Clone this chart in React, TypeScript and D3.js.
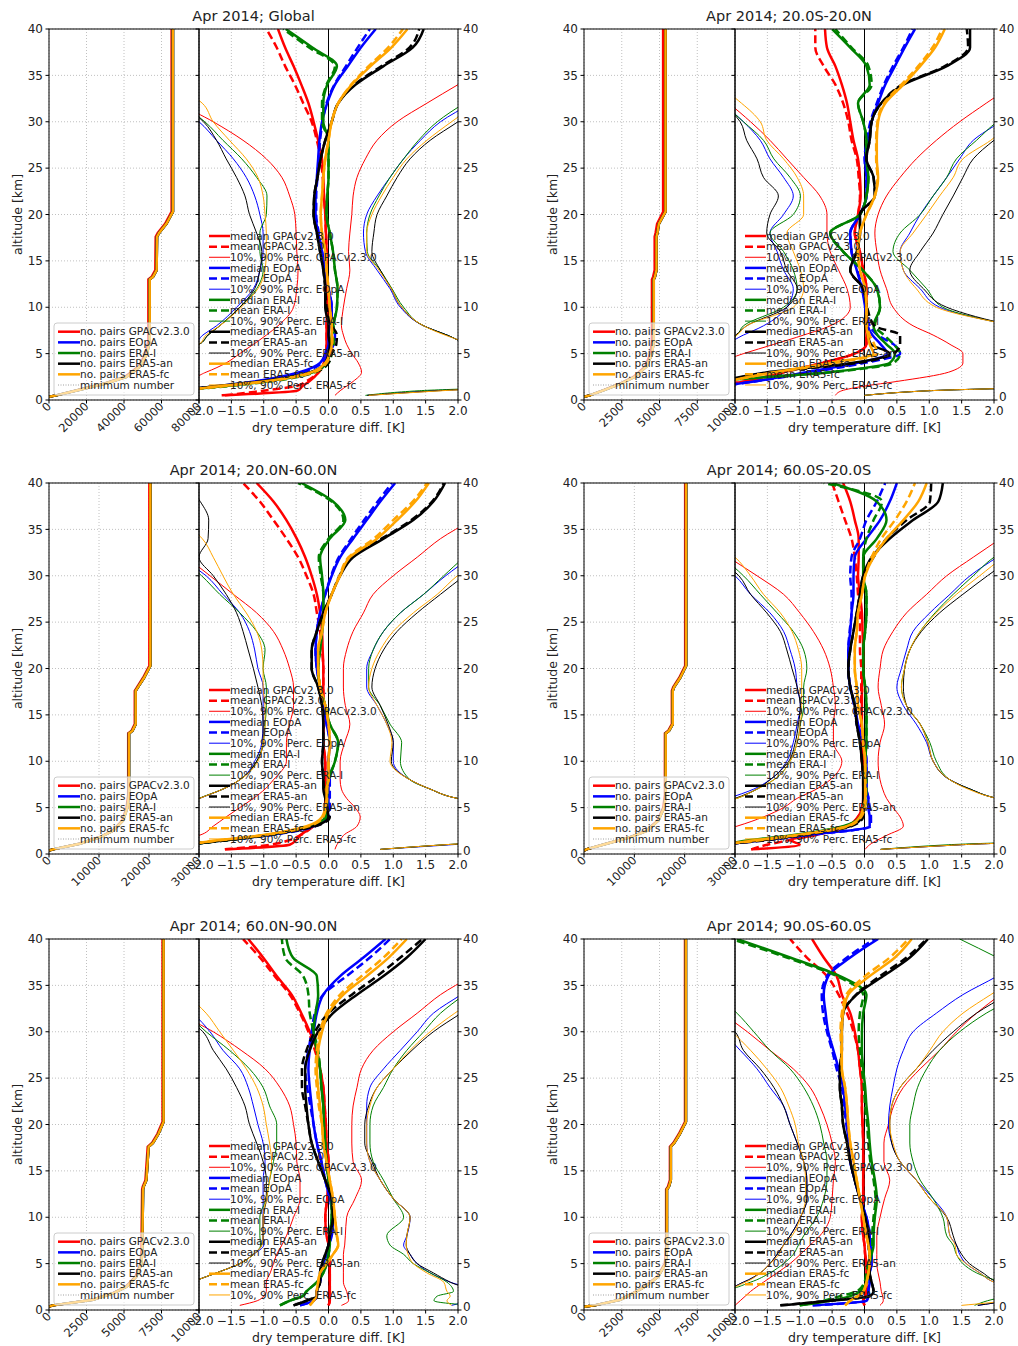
import * as d3 from "d3";
import { useEffect, useRef } from "react";

// altitude levels (km) for the difference profiles
const ALT = [0.5, 1, 1.5, 2, 3, 4, 5, 6, 7, 8, 10, 12, 14, 16, 18, 20, 22, 24, 26, 28, 30, 32, 34, 36, 38, 40];
// altitude levels (km) for the number-of-pairs profiles
const CNT_ALT = [0.36, 0.5, 1.1, 1.8, 2.5, 3.6, 5, 6.4, 13.0, 13.3, 14, 17.6, 18, 19, 20.3, 40];

const SETS = ["GPACv2.3.0", "EOpA", "ERA-I", "ERA5-an", "ERA5-fc"];
const COLORS = ["#ff0000", "#0000ff", "#008000", "#000000", "#ffa500"];
const ALT_TICKS = [0, 5, 10, 15, 20, 25, 30, 35, 40];
const DIFF_TICKS = [-2, -1.5, -1, -0.5, 0, 0.5, 1, 1.5, 2];
const TICKS_80K = [0, 20000, 40000, 60000, 80000];
const TICKS_30K = [0, 10000, 20000, 30000];
const TICKS_10K = [0, 2500, 5000, 7500, 10000];

// ---------- Global ----------
const GLOBAL_CNT_GPAC = [0, 3800, 16000, 30000, 40600, 47700, 51600, 53000, 53000, 54800, 56700, 56900, 58000, 61900, 65400, 65400];
const GLOBAL_CNT = [0, 3900, 16400, 30600, 41300, 48400, 52300, 53700, 53700, 55500, 57400, 57600, 58700, 62600, 66100, 66100];
const GLOBAL_MEDIAN = [
    [-1.65, -0.48, -0.4, -0.3, -0.15, -0.07, -0.04, -0.03, -0.03, -0.03, -0.02, -0.03, -0.03, -0.03, -0.04, -0.05, -0.07, -0.08, -0.1, -0.16, -0.23, -0.31, -0.42, -0.54, -0.67, -0.78],
    [-2.6, -2.3, -1.7, -1.15, -0.45, -0.13, -0.05, 0.0, 0.0, 0.02, 0.05, 0.0, -0.05, -0.1, -0.16, -0.2, -0.2, -0.18, -0.16, -0.14, -0.1, -0.02, 0.1, 0.3, 0.5, 0.73],
    [-2.6, -2.3, -1.6, -0.96, -0.23, -0.03, 0.02, 0.03, 0.05, 0.07, 0.13, 0.14, 0.1, 0.07, 0.02, -0.03, -0.02, 0.0, 0.0, 0.0, -0.08, -0.08, -0.02, 0.13, -0.25, -0.66],
    [-2.6, -2.3, -1.73, -1.06, -0.28, -0.05, 0.0, 0.02, 0.0, 0.0, -0.05, -0.05, -0.08, -0.13, -0.18, -0.23, -0.22, -0.17, -0.12, -0.05, 0.05, 0.15, 0.42, 0.85, 1.3, 1.47],
    [-2.6, -2.3, -1.65, -1.0, -0.26, -0.05, 0.02, 0.05, 0.05, 0.05, 0.02, 0.0, -0.03, -0.05, -0.1, -0.12, -0.1, -0.08, -0.05, 0.0, 0.05, 0.15, 0.36, 0.65, 0.97, 1.22],
];
const GLOBAL_MEAN = [
    [-1.6, -1.0, -0.5, -0.35, -0.15, -0.07, -0.04, -0.03, -0.03, -0.03, -0.02, -0.03, -0.03, -0.03, -0.04, -0.05, -0.07, -0.09, -0.12, -0.18, -0.26, -0.39, -0.52, -0.67, -0.8, -0.96],
    [-2.6, -2.3, -1.65, -1.1, -0.4, -0.1, 0.0, 0.08, 0.1, 0.05, 0.05, 0.0, -0.05, -0.1, -0.15, -0.19, -0.19, -0.17, -0.15, -0.13, -0.09, -0.03, 0.09, 0.27, 0.45, 0.64],
    [-2.6, -2.3, -1.55, -0.9, -0.2, 0.0, 0.05, 0.08, 0.08, 0.08, 0.13, 0.14, 0.1, 0.07, 0.02, -0.03, -0.02, 0.0, 0.0, 0.0, -0.1, -0.1, -0.03, 0.1, -0.3, -0.7],
    [-2.6, -2.3, -1.7, -1.0, -0.22, 0.0, 0.05, 0.12, 0.13, 0.05, -0.03, -0.05, -0.08, -0.13, -0.18, -0.23, -0.22, -0.17, -0.12, -0.05, 0.05, 0.15, 0.4, 0.82, 1.25, 1.4],
    [-2.6, -2.3, -1.6, -0.95, -0.22, -0.03, 0.03, 0.06, 0.06, 0.05, 0.02, 0.0, -0.03, -0.05, -0.1, -0.12, -0.1, -0.08, -0.05, 0.0, 0.05, 0.15, 0.35, 0.62, 0.92, 1.15],
];
const GLOBAL_P10 = [
    [-3, -3, -3, -2.3, -1.89, -1.58, -1.37, -1.16, -0.96, -0.78, -0.54, -0.49, -0.47, -0.49, -0.5, -0.52, -0.6, -0.72, -0.96, -1.32, -1.78, -2.3, -2.6, -2.8, -3, -3],
    [-3, -3, -3, -3, -3, -3, -2.6, -2.1, -1.94, -1.73, -1.42, -1.16, -1.06, -1.01, -1.01, -1.06, -1.14, -1.27, -1.47, -1.73, -2.0, -2.4, -2.8, -3, -3, -3],
    [-3, -3, -3, -3, -3, -3, -2.6, -2.0, -1.86, -1.68, -1.37, -1.11, -1.01, -1.06, -1.06, -0.96, -0.95, -1.11, -1.34, -1.63, -1.91, -2.3, -2.8, -3, -3, -3],
    [-3, -3, -3, -3, -3, -3, -2.6, -2.0, -1.86, -1.68, -1.37, -1.14, -1.06, -1.03, -1.11, -1.22, -1.29, -1.42, -1.58, -1.73, -1.93, -2.3, -2.8, -3, -3, -3],
    [-3, -3, -3, -3, -3, -3, -2.6, -2.0, -1.89, -1.68, -1.35, -1.09, -0.98, -0.96, -0.96, -0.98, -1.01, -1.09, -1.27, -1.53, -1.78, -1.95, -2.4, -3, -3, -3],
];
const GLOBAL_P90 = [
    [0.1, 0.18, 0.28, 0.38, 0.51, 0.46, 0.36, 0.28, 0.23, 0.2, 0.23, 0.28, 0.33, 0.31, 0.33, 0.36, 0.38, 0.44, 0.57, 0.75, 1.06, 1.52, 2.0, 2.5, 2.9, 3.2],
    [0.6, 1.6, 3, 3, 3, 3, 3, 2.2, 1.83, 1.47, 1.11, 0.95, 0.75, 0.57, 0.54, 0.59, 0.75, 0.95, 1.16, 1.42, 1.73, 2.2, 2.6, 3, 3, 3],
    [0.57, 1.4, 3, 3, 3, 3, 3, 2.2, 1.83, 1.47, 1.16, 0.98, 0.8, 0.6, 0.59, 0.64, 0.78, 0.95, 1.16, 1.39, 1.68, 2.1, 2.6, 3, 3, 3],
    [0.6, 1.7, 3, 3, 3, 3, 3, 2.2, 1.83, 1.47, 1.13, 0.97, 0.8, 0.67, 0.7, 0.75, 0.9, 1.06, 1.26, 1.57, 2.0, 2.4, 2.8, 3, 3, 3],
    [0.62, 1.75, 3, 3, 3, 3, 3, 2.25, 1.8, 1.47, 1.13, 0.97, 0.78, 0.59, 0.59, 0.67, 0.82, 1.0, 1.21, 1.52, 1.9, 2.3, 2.7, 3, 3, 3],
];

// ---------- 20.0S-20.0N ----------
const TROP_CNT_GPAC = [0, 370, 1330, 2420, 3280, 4040, 4400, 4500, 4500, 4580, 4680, 4680, 4740, 4840, 5240, 5240];
const TROP_CNT = [0, 380, 1370, 2480, 3360, 4140, 4510, 4620, 4620, 4700, 4800, 4800, 4860, 4960, 5400, 5400];
const TROP_MEDIAN = [
    [-2.6, -2.5, -2.3, -1.85, -1.25, -0.65, -0.15, 0.03, 0.03, 0.03, 0.03, 0.03, -0.02, -0.07, -0.15, -0.1, -0.06, -0.07, -0.1, -0.17, -0.22, -0.27, -0.35, -0.45, -0.58, -0.61],
    [-2.6, -2.5, -2.2, -1.7, -0.9, -0.1, 0.35, 0.25, 0.12, 0.05, 0.01, -0.04, -0.12, -0.2, -0.22, -0.07, 0.03, 0.03, 0.01, 0.06, 0.11, 0.21, 0.32, 0.47, 0.62, 0.78],
    [-2.6, -2.5, -2.3, -2.2, -0.53, 0.39, 0.47, 0.34, 0.2, 0.14, 0.24, 0.19, -0.03, -0.33, -0.53, -0.07, 0.03, 0.06, 0.03, 0.03, -0.02, -0.1, 0.08, 0.03, -0.22, -0.5],
    [-2.6, -2.5, -2.4, -2.2, -1.5, -0.2, 0.39, 0.1, 0.05, 0.03, 0.03, -0.02, -0.22, -0.12, -0.07, -0.07, 0.16, 0.14, 0.03, 0.08, 0.11, 0.26, 0.6, 1.27, 1.63, 1.63],
    [-2.6, -2.5, -2.3, -2.1, -1.4, -0.53, 0.14, 0.08, 0.05, 0.03, 0.03, 0.01, -0.07, -0.1, -0.07, 0.03, 0.16, 0.21, 0.19, 0.19, 0.21, 0.32, 0.6, 0.86, 1.09, 1.24],
];
const TROP_MEAN = [
    [-2.6, -2.5, -2.3, -1.85, -1.25, -0.65, -0.15, 0.03, 0.03, 0.03, 0.03, 0.03, -0.02, -0.07, -0.15, -0.1, -0.07, -0.09, -0.12, -0.2, -0.25, -0.33, -0.45, -0.63, -0.76, -0.76],
    [-2.6, -2.5, -2.2, -1.7, -0.8, 0.0, 0.55, 0.45, 0.2, 0.08, 0.02, -0.03, -0.11, -0.2, -0.22, -0.07, 0.03, 0.03, 0.0, 0.04, 0.09, 0.19, 0.3, 0.44, 0.6, 0.74],
    [-2.6, -2.5, -2.3, -2.2, -0.5, 0.45, 0.55, 0.45, 0.3, 0.16, 0.24, 0.19, -0.03, -0.33, -0.53, -0.07, 0.03, 0.06, 0.03, 0.03, -0.02, -0.1, 0.11, 0.06, -0.2, -0.45],
    [-2.6, -2.5, -2.4, -2.2, -1.4, -0.1, 0.45, 0.55, 0.55, 0.15, 0.04, -0.02, -0.22, -0.12, -0.07, -0.07, 0.16, 0.14, 0.03, 0.08, 0.11, 0.26, 0.58, 1.24, 1.6, 1.58],
    [-2.6, -2.5, -2.3, -2.1, -1.35, -0.45, 0.2, 0.15, 0.08, 0.04, 0.03, 0.01, -0.07, -0.1, -0.07, 0.03, 0.16, 0.2, 0.18, 0.18, 0.2, 0.3, 0.57, 0.83, 1.05, 1.2],
];
const TROP_P10 = [
    [-3, -3, -3, -3, -3, -2.3, -1.87, -1.4, -0.94, -0.53, -0.22, -0.27, -0.4, -0.53, -0.58, -0.58, -0.69, -0.94, -1.2, -1.46, -1.76, -2.1, -2.5, -3, -3, -3],
    [-3, -3, -3, -3, -3, -3, -3, -2.2, -1.87, -1.56, -1.2, -1.1, -1.25, -1.35, -1.46, -1.25, -1.1, -1.25, -1.46, -1.61, -1.87, -2.2, -2.6, -3, -3, -3],
    [-3, -3, -3, -3, -3, -3, -3, -2.2, -1.97, -1.87, -1.25, -1.04, -1.1, -1.25, -1.46, -1.1, -0.99, -1.15, -1.4, -1.56, -1.87, -2.2, -2.6, -3, -3, -3],
    [-3, -3, -3, -3, -3, -3, -3, -2.2, -1.99, -1.82, -1.2, -1.04, -1.2, -1.3, -1.51, -1.46, -1.33, -1.56, -1.66, -1.82, -1.92, -2.2, -2.6, -3, -3, -3],
    [-3, -3, -3, -3, -3, -3, -3, -2.2, -1.97, -1.82, -1.1, -0.94, -0.99, -1.1, -1.2, -0.94, -0.94, -1.04, -1.25, -1.51, -1.61, -1.9, -2.3, -3, -3, -3],
];
const TROP_P90 = [
    [-0.45, -0.35, 0.0, 0.5, 1.3, 1.52, 1.52, 1.32, 1.06, 0.75, 0.44, 0.34, 0.24, 0.19, 0.16, 0.21, 0.34, 0.55, 0.8, 1.11, 1.47, 1.88, 2.3, 2.7, 3, 3],
    [0.0, 1.0, 3, 3, 3, 3, 3, 3, 3, 2.3, 1.16, 0.86, 0.6, 0.55, 0.7, 0.86, 1.06, 1.27, 1.47, 1.68, 2.1, 2.5, 3, 3, 3, 3],
    [0.0, 1.0, 3, 3, 3, 3, 3, 3, 3, 2.3, 1.21, 0.96, 0.7, 0.44, 0.55, 0.86, 1.06, 1.27, 1.42, 1.73, 2.05, 2.5, 3, 3, 3, 3],
    [0.0, 1.0, 3, 3, 3, 3, 3, 3, 3, 2.3, 1.27, 0.91, 0.7, 0.86, 1.06, 1.21, 1.37, 1.52, 1.68, 2.0, 2.4, 2.8, 3, 3, 3, 3],
    [0.0, 1.0, 3, 3, 3, 3, 3, 3, 3, 2.3, 1.11, 0.8, 0.6, 0.55, 0.75, 0.96, 1.16, 1.37, 1.52, 1.95, 2.3, 2.7, 3, 3, 3, 3],
];

// ---------- 20.0N-60.0N ----------
const NHM_CNT_GPAC = [0, 790, 6070, 10030, 12670, 14650, 15510, 15840, 15840, 16530, 17160, 17160, 17620, 18810, 20070, 20070];
const NHM_CNT = [0, 800, 6130, 10130, 12800, 14800, 15670, 16000, 16000, 16700, 17330, 17330, 17800, 19000, 20270, 20270];
const NHM_MEDIAN = [
    [-1.6, -0.6, -0.5, -0.44, -0.23, -0.05, -0.05, -0.05, -0.05, -0.05, -0.05, -0.08, -0.08, -0.08, -0.08, -0.08, -0.09, -0.1, -0.13, -0.18, -0.26, -0.36, -0.49, -0.65, -0.85, -1.11],
    [-2.6, -2.2, -1.58, -0.96, -0.23, -0.03, 0.0, 0.0, 0.0, 0.0, 0.0, 0.02, -0.03, -0.08, -0.13, -0.18, -0.2, -0.18, -0.13, -0.05, 0.05, 0.18, 0.38, 0.59, 0.8, 1.03],
    [-2.6, -2.2, -1.58, -1.01, -0.29, -0.05, -0.03, -0.03, -0.03, 0.0, 0.1, 0.15, 0.02, -0.05, -0.13, -0.16, -0.13, -0.1, -0.08, -0.08, -0.1, -0.13, 0.02, 0.26, 0.07, -0.42],
    [-2.6, -2.2, -1.58, -1.01, -0.23, 0.0, -0.03, -0.05, -0.08, -0.08, -0.1, -0.08, -0.08, -0.1, -0.16, -0.26, -0.26, -0.18, -0.08, 0.05, 0.18, 0.38, 0.85, 1.31, 1.62, 1.8],
    [-2.6, -2.2, -1.68, -1.06, -0.34, -0.1, -0.05, -0.03, -0.03, 0.0, 0.0, 0.02, 0.0, -0.05, -0.13, -0.16, -0.16, -0.1, -0.05, 0.05, 0.18, 0.33, 0.75, 1.06, 1.34, 1.55],
];
const NHM_MEAN = [
    [-1.6, -0.9, -0.6, -0.44, -0.23, -0.05, -0.05, -0.05, -0.05, -0.05, -0.05, -0.08, -0.08, -0.08, -0.08, -0.08, -0.1, -0.13, -0.18, -0.23, -0.34, -0.47, -0.65, -0.85, -1.06, -1.32],
    [-2.6, -2.2, -1.55, -0.93, -0.2, 0.0, 0.02, 0.02, 0.02, 0.02, 0.0, 0.02, -0.03, -0.08, -0.13, -0.18, -0.2, -0.18, -0.13, -0.05, 0.04, 0.16, 0.35, 0.55, 0.76, 0.98],
    [-2.6, -2.2, -1.55, -0.98, -0.26, -0.03, -0.02, -0.02, -0.02, 0.0, 0.1, 0.15, 0.02, -0.05, -0.13, -0.16, -0.13, -0.1, -0.08, -0.08, -0.12, -0.15, 0.0, 0.23, 0.05, -0.47],
    [-2.6, -2.2, -1.55, -0.98, -0.2, 0.02, -0.02, -0.04, -0.07, -0.08, -0.1, -0.08, -0.08, -0.1, -0.16, -0.26, -0.26, -0.18, -0.08, 0.05, 0.17, 0.36, 0.82, 1.28, 1.6, 1.78],
    [-2.6, -2.2, -1.65, -1.03, -0.3, -0.08, -0.04, -0.02, -0.02, 0.0, 0.0, 0.02, 0.0, -0.05, -0.13, -0.16, -0.16, -0.1, -0.05, 0.05, 0.17, 0.31, 0.7, 1.0, 1.3, 1.52],
];
const NHM_P10 = [
    [-3, -3, -2.3, -2.0, -1.78, -1.58, -1.37, -1.16, -0.98, -0.85, -0.65, -0.65, -0.6, -0.54, -0.54, -0.6, -0.7, -0.85, -1.11, -1.47, -1.83, -2.2, -2.6, -3, -3, -3],
    [-3, -3, -3, -3, -3, -3, -2.3, -1.99, -1.63, -1.37, -1.14, -1.03, -1.01, -1.01, -1.01, -1.09, -1.14, -1.22, -1.37, -1.63, -1.89, -2.3, -2.6, -3, -3, -3],
    [-3, -3, -3, -3, -3, -3, -2.3, -2.0, -1.63, -1.37, -1.11, -1.01, -0.98, -0.96, -0.96, -1.01, -0.98, -1.11, -1.37, -1.68, -1.96, -2.3, -2.6, -3, -3, -3],
    [-3, -3, -3, -3, -3, -3, -2.3, -1.99, -1.63, -1.37, -1.11, -1.01, -1.01, -1.03, -1.09, -1.16, -1.24, -1.32, -1.42, -1.58, -1.78, -2.0, -1.86, -1.85, -1.98, -2.2],
    [-3, -3, -3, -3, -3, -3, -2.3, -1.99, -1.63, -1.37, -1.09, -1.01, -0.98, -0.98, -1.01, -1.01, -1.03, -1.11, -1.27, -1.47, -1.63, -1.78, -1.95, -2.3, -3, -3],
];
const NHM_P90 = [
    [0.1, 0.13, 0.18, 0.23, 0.44, 0.49, 0.41, 0.28, 0.2, 0.18, 0.18, 0.25, 0.33, 0.26, 0.23, 0.23, 0.28, 0.38, 0.54, 0.69, 1.0, 1.37, 1.73, 2.2, 2.6, 3],
    [0.8, 1.9, 3, 3, 3, 3, 3, 1.99, 1.57, 1.26, 1.0, 1.0, 0.9, 0.75, 0.59, 0.59, 0.69, 0.85, 1.11, 1.47, 1.81, 2.2, 2.6, 3, 3, 3],
    [0.8, 1.8, 3, 3, 3, 3, 3, 1.99, 1.57, 1.26, 1.11, 1.13, 0.95, 0.8, 0.62, 0.62, 0.69, 0.85, 1.11, 1.47, 1.78, 2.1, 2.5, 3, 3, 3],
    [0.8, 1.8, 3, 3, 3, 3, 3, 1.99, 1.57, 1.26, 0.97, 1.0, 0.92, 0.8, 0.67, 0.72, 0.85, 1.06, 1.37, 1.73, 2.1, 2.5, 2.8, 3, 3, 3],
    [0.8, 1.8, 3, 3, 3, 3, 3, 1.99, 1.57, 1.26, 0.95, 0.98, 0.9, 0.75, 0.62, 0.67, 0.8, 1.0, 1.31, 1.68, 1.99, 2.4, 2.8, 3, 3, 3],
];

// ---------- 60.0S-20.0S ----------
const SHM_CNT_GPAC = [0, 460, 4400, 9000, 12300, 14600, 15750, 16080, 16080, 16750, 17460, 17460, 17730, 18920, 20100, 20100];
const SHM_CNT = [0, 470, 4460, 9110, 12440, 14770, 15900, 16230, 16230, 16900, 17630, 17630, 17900, 19100, 20290, 20290];
const SHM_MEDIAN = [
    [-1.75, -1.0, -1.15, -0.79, -0.27, -0.1, -0.04, -0.02, -0.02, -0.02, -0.02, -0.04, -0.04, -0.04, -0.04, -0.02, -0.02, -0.03, -0.04, -0.07, -0.1, -0.09, -0.09, -0.15, -0.22, -0.33],
    [-2.6, -2.2, -1.56, -0.94, 0.08, 0.08, 0.06, 0.06, 0.03, 0.03, 0.03, -0.02, -0.1, -0.15, -0.22, -0.25, -0.25, -0.22, -0.2, -0.17, -0.17, -0.15, 0.03, 0.24, 0.39, 0.5],
    [-2.6, -2.2, -1.76, -1.15, -0.33, -0.07, -0.02, 0.01, 0.01, 0.01, 0.01, 0.03, 0.03, 0.03, 0.01, -0.02, -0.02, 0.01, 0.03, 0.03, -0.02, -0.02, 0.19, 0.34, 0.19, -0.5],
    [-2.6, -2.2, -1.56, -1.04, -0.22, -0.04, -0.02, -0.02, -0.02, -0.02, -0.04, -0.07, -0.12, -0.15, -0.22, -0.25, -0.22, -0.17, -0.12, -0.07, -0.02, 0.11, 0.39, 0.75, 1.14, 1.21],
    [-2.6, -2.2, -1.66, -1.1, -0.27, -0.07, -0.02, 0.01, 0.01, 0.01, 0.01, -0.02, -0.04, -0.1, -0.12, -0.15, -0.15, -0.12, -0.1, -0.04, 0.01, 0.14, 0.34, 0.6, 0.83, 0.96],
];
const SHM_MEAN = [
    [-1.75, -1.5, -1.15, -0.79, -0.27, -0.1, -0.04, -0.02, -0.02, -0.02, -0.04, -0.05, -0.05, -0.05, -0.05, -0.05, -0.07, -0.07, -0.07, -0.1, -0.12, -0.15, -0.2, -0.3, -0.4, -0.5],
    [-2.6, -2.2, -1.5, -0.9, 0.1, 0.1, 0.08, 0.06, 0.03, 0.03, 0.03, -0.02, -0.12, -0.16, -0.22, -0.25, -0.25, -0.23, -0.2, -0.2, -0.22, -0.2, -0.07, 0.03, 0.19, 0.32],
    [-2.6, -2.2, -1.7, -1.1, -0.3, -0.05, 0.0, 0.03, 0.03, 0.03, 0.01, 0.03, 0.03, 0.03, 0.01, -0.02, -0.02, 0.01, 0.03, 0.03, -0.02, -0.02, 0.03, 0.14, 0.27, -0.63],
    [-2.6, -2.2, -1.5, -1.0, -0.2, -0.02, 0.0, 0.0, -0.02, -0.02, -0.04, -0.07, -0.12, -0.15, -0.22, -0.25, -0.22, -0.17, -0.12, -0.07, -0.02, 0.14, 0.34, 0.65, 1.01, 1.03],
    [-2.6, -2.2, -1.6, -1.05, -0.25, -0.05, 0.0, 0.02, 0.02, 0.01, 0.01, -0.02, -0.04, -0.1, -0.12, -0.15, -0.15, -0.12, -0.1, -0.04, 0.01, 0.11, 0.26, 0.47, 0.65, 0.78],
];
const SHM_P10 = [
    [-3, -3, -3, -2.5, -1.97, -1.56, -1.25, -1.04, -0.74, -0.53, -0.35, -0.48, -0.48, -0.45, -0.48, -0.53, -0.63, -0.79, -1.0, -1.25, -1.66, -2.1, -2.5, -3, -3, -3],
    [-3, -3, -3, -3, -3, -3, -2.5, -2.1, -1.71, -1.46, -1.2, -1.1, -1.04, -0.99, -1.04, -1.07, -1.15, -1.25, -1.46, -1.76, -2.0, -2.4, -2.8, -3, -3, -3],
    [-3, -3, -3, -3, -3, -3, -2.5, -1.97, -1.66, -1.4, -1.15, -1.04, -0.99, -0.94, -0.94, -0.89, -0.94, -1.1, -1.35, -1.61, -1.87, -2.2, -2.6, -3, -3, -3],
    [-3, -3, -3, -3, -3, -3, -2.5, -2.0, -1.66, -1.46, -1.17, -1.07, -1.02, -0.99, -1.04, -1.12, -1.2, -1.3, -1.51, -1.76, -1.94, -2.3, -2.7, -3, -3, -3],
    [-3, -3, -3, -3, -3, -3, -2.5, -1.97, -1.66, -1.4, -1.15, -1.04, -0.99, -0.97, -0.97, -0.97, -1.02, -1.12, -1.3, -1.56, -1.76, -2.0, -2.4, -3, -3, -3],
];
const SHM_P90 = [
    [0.01, 0.08, 0.2, 0.34, 0.6, 0.55, 0.44, 0.34, 0.28, 0.24, 0.21, 0.24, 0.31, 0.26, 0.21, 0.24, 0.29, 0.44, 0.65, 0.96, 1.27, 1.68, 2.1, 2.5, 3, 3],
    [0.25, 1.5, 3, 3, 3, 3, 3, 2.05, 1.63, 1.32, 1.06, 0.96, 0.8, 0.6, 0.5, 0.57, 0.65, 0.75, 1.01, 1.32, 1.63, 2.05, 2.5, 3, 3, 3],
    [0.25, 1.3, 3, 3, 3, 3, 3, 2.05, 1.63, 1.32, 1.11, 1.01, 0.86, 0.65, 0.57, 0.62, 0.7, 0.86, 1.09, 1.37, 1.68, 2.0, 2.5, 3, 3, 3],
    [0.25, 1.5, 3, 3, 3, 3, 3, 2.05, 1.63, 1.32, 1.06, 0.98, 0.86, 0.65, 0.6, 0.62, 0.7, 0.88, 1.16, 1.52, 1.9, 2.3, 2.7, 3, 3, 3],
    [0.25, 1.5, 3, 3, 3, 3, 3, 2.05, 1.6, 1.32, 1.06, 0.98, 0.86, 0.65, 0.57, 0.62, 0.7, 0.86, 1.11, 1.42, 1.78, 2.15, 2.6, 3, 3, 3],
];

// ---------- 60.0N-90.0N ----------
const NHP_CNT_GPAC = [0, 265, 2900, 4230, 5110, 5760, 6100, 6160, 6210, 6250, 6430, 6580, 6860, 7230, 7570, 7570];
const NHP_CNT = [0, 270, 2930, 4270, 5160, 5820, 6160, 6220, 6270, 6310, 6490, 6640, 6930, 7300, 7640, 7640];
const NHP_MEDIAN = [
    [0.0, 0.02, 0.02, 0.02, 0.02, 0.02, 0.02, 0.0, 0.0, -0.03, -0.05, -0.02, 0.0, 0.0, -0.03, -0.04, -0.06, -0.08, -0.13, -0.18, -0.29, -0.42, -0.57, -0.8, -1.01, -1.24],
    [-0.44, -0.23, -0.18, -0.18, -0.13, -0.11, -0.08, -0.03, 0.0, 0.05, 0.07, 0.02, -0.05, -0.11, -0.18, -0.23, -0.26, -0.29, -0.31, -0.29, -0.23, -0.18, -0.08, 0.18, 0.54, 0.88],
    [-0.75, -0.6, -0.4, -0.34, -0.18, -0.08, -0.03, 0.0, 0.02, 0.02, 0.05, 0.05, 0.0, -0.03, -0.05, -0.07, -0.08, -0.11, -0.13, -0.18, -0.23, -0.2, -0.16, -0.18, -0.55, -0.65],
    [-0.54, -0.34, -0.18, -0.18, -0.13, -0.13, -0.1, -0.05, 0.0, 0.02, 0.07, 0.05, -0.05, -0.16, -0.26, -0.31, -0.34, -0.36, -0.36, -0.29, -0.16, 0.07, 0.44, 0.85, 1.21, 1.5],
    [-0.29, -0.23, -0.18, -0.18, -0.16, -0.13, -0.03, 0.07, 0.15, 0.13, 0.1, 0.07, 0.02, -0.03, -0.08, -0.1, -0.13, -0.16, -0.18, -0.16, -0.1, 0.0, 0.23, 0.59, 0.93, 1.21],
];
const NHP_MEAN = [
    [0.0, 0.02, 0.02, 0.02, 0.02, 0.02, 0.02, 0.0, 0.0, -0.03, -0.05, -0.02, 0.0, 0.0, -0.03, -0.04, -0.06, -0.08, -0.13, -0.21, -0.31, -0.44, -0.6, -0.83, -1.06, -1.32],
    [-0.44, -0.23, -0.18, -0.18, -0.13, -0.11, -0.08, -0.03, 0.0, 0.05, 0.07, 0.02, -0.05, -0.11, -0.18, -0.23, -0.28, -0.33, -0.36, -0.31, -0.26, -0.21, -0.08, 0.28, 0.64, 0.95],
    [-0.75, -0.6, -0.4, -0.34, -0.18, -0.08, -0.03, 0.0, 0.02, 0.02, 0.05, 0.05, 0.0, -0.03, -0.05, -0.07, -0.08, -0.11, -0.13, -0.16, -0.23, -0.29, -0.31, -0.39, -0.67, -0.72],
    [-0.54, -0.34, -0.18, -0.18, -0.13, -0.13, -0.1, -0.05, 0.0, 0.02, 0.07, 0.05, -0.05, -0.16, -0.26, -0.31, -0.36, -0.41, -0.41, -0.34, -0.21, 0.0, 0.36, 0.75, 1.11, 1.45],
    [-0.29, -0.23, -0.18, -0.18, -0.16, -0.13, -0.03, 0.07, 0.15, 0.13, 0.1, 0.07, 0.02, -0.03, -0.08, -0.1, -0.15, -0.18, -0.2, -0.18, -0.13, -0.03, 0.18, 0.51, 0.85, 1.13],
];
const NHP_P10 = [
    [-1.37, -1.1, -1.0, -0.96, -0.96, -0.9, -0.85, -0.8, -0.72, -0.65, -0.54, -0.44, -0.44, -0.49, -0.5, -0.54, -0.6, -0.75, -0.98, -1.35, -1.78, -2.3, -2.6, -3, -3, -3],
    [-3, -3, -3, -2.3, -2.1, -1.73, -1.37, -1.16, -1.0, -1.01, -1.01, -1.01, -1.01, -0.98, -1.01, -1.09, -1.16, -1.24, -1.37, -1.63, -1.83, -2.1, -2.5, -3, -3, -3],
    [-3, -3, -3, -2.3, -2.1, -1.73, -1.37, -1.16, -1.05, -1.06, -1.06, -0.96, -0.91, -0.85, -0.8, -0.8, -0.91, -1.01, -1.22, -1.53, -1.89, -2.2, -2.6, -3, -3, -3],
    [-3, -3, -3, -2.3, -2.1, -1.73, -1.37, -1.16, -1.03, -1.01, -1.01, -0.96, -0.96, -1.01, -1.11, -1.22, -1.29, -1.42, -1.58, -1.78, -1.94, -2.3, -2.6, -3, -3, -3],
    [-3, -3, -3, -2.3, -2.1, -1.73, -1.37, -1.16, -1.03, -1.01, -1.01, -0.96, -0.91, -0.88, -0.91, -0.96, -1.01, -1.11, -1.27, -1.47, -1.68, -1.89, -2.2, -2.6, -3, -3],
];
const NHP_P90 = [
    [0.2, 0.31, 0.3, 0.28, 0.23, 0.23, 0.23, 0.23, 0.25, 0.26, 0.28, 0.41, 0.51, 0.38, 0.36, 0.36, 0.38, 0.44, 0.51, 0.69, 1.0, 1.37, 1.73, 2.2, 2.6, 3],
    [1.9, 2.1, 2.1, 2.3, 1.88, 1.57, 1.37, 1.26, 1.16, 1.21, 1.26, 1.0, 0.8, 0.64, 0.59, 0.59, 0.59, 0.64, 0.85, 1.11, 1.37, 1.62, 2.05, 2.5, 3, 3],
    [2.2, 1.63, 1.68, 1.93, 1.83, 1.57, 1.31, 1.16, 0.95, 0.9, 1.16, 1.0, 0.85, 0.69, 0.64, 0.64, 0.69, 0.85, 1.0, 1.21, 1.47, 1.73, 2.1, 2.5, 3, 3],
    [2.2, 2.2, 2.2, 2.2, 1.88, 1.62, 1.37, 1.26, 1.2, 1.21, 1.26, 1.0, 0.8, 0.67, 0.56, 0.56, 0.62, 0.75, 1.0, 1.29, 1.62, 2.05, 2.5, 3, 3, 3],
    [1.9, 1.83, 1.88, 1.83, 1.78, 1.52, 1.31, 1.23, 1.2, 1.21, 1.26, 1.0, 0.8, 0.64, 0.59, 0.59, 0.64, 0.75, 1.0, 1.26, 1.57, 1.95, 2.4, 3, 3, 3],
];

// ---------- 90.0S-60.0S ----------
const SHP_CNT_GPAC = [0, 690, 2380, 3220, 3990, 4860, 5350, 5440, 5440, 5560, 5690, 5690, 5910, 6290, 6690, 6690];
const SHP_CNT = [0, 700, 2400, 3250, 4030, 4910, 5400, 5490, 5490, 5620, 5750, 5750, 5970, 6350, 6750, 6750];
const SHP_MEDIAN = [
    [0.0, -0.02, 0.01, 0.03, 0.03, 0.03, 0.03, 0.01, 0.0, -0.02, -0.04, -0.02, -0.02, -0.02, -0.02, -0.03, -0.04, -0.04, -0.07, -0.1, -0.15, -0.22, -0.35, -0.43, -0.63, -0.81],
    [-0.8, 0.03, 0.06, 0.06, 0.08, 0.08, 0.11, 0.11, 0.09, 0.08, 0.03, -0.07, -0.15, -0.22, -0.25, -0.27, -0.3, -0.33, -0.4, -0.48, -0.56, -0.6, -0.63, -0.56, -0.22, 0.21],
    [-1.0, -0.53, -0.22, -0.07, 0.03, 0.06, 0.08, 0.11, 0.14, 0.14, 0.16, 0.19, 0.16, 0.11, 0.08, 0.06, 0.03, 0.01, -0.02, -0.04, -0.04, -0.02, 0.03, -0.38, -1.15, -1.97],
    [-1.3, -0.53, 0.08, 0.14, 0.11, 0.08, 0.08, 0.08, 0.06, 0.06, 0.01, -0.07, -0.15, -0.22, -0.27, -0.33, -0.35, -0.38, -0.38, -0.35, -0.35, -0.33, -0.12, 0.29, 0.7, 0.98],
    [-0.3, -0.22, -0.1, -0.02, 0.03, 0.06, 0.08, 0.08, 0.06, 0.03, -0.02, -0.07, -0.12, -0.17, -0.22, -0.25, -0.27, -0.3, -0.35, -0.35, -0.35, -0.33, -0.25, 0.08, 0.47, 0.73],
];
const SHP_MEAN = [
    [0.0, -0.02, 0.01, 0.03, 0.03, 0.03, 0.03, 0.01, 0.0, -0.02, -0.04, -0.02, -0.02, -0.02, -0.02, -0.03, -0.04, -0.04, -0.07, -0.1, -0.17, -0.27, -0.4, -0.58, -0.89, -1.15],
    [-0.8, 0.03, 0.06, 0.06, 0.08, 0.08, 0.11, 0.11, 0.09, 0.08, 0.03, -0.07, -0.15, -0.22, -0.25, -0.28, -0.32, -0.35, -0.43, -0.5, -0.58, -0.64, -0.66, -0.58, -0.27, 0.16],
    [-1.0, -0.63, -0.38, -0.12, 0.0, 0.03, 0.06, 0.09, 0.12, 0.12, 0.14, 0.17, 0.14, 0.09, 0.06, 0.04, 0.01, -0.01, -0.04, -0.07, -0.09, -0.07, -0.02, -0.43, -1.2, -2.05],
    [-1.3, -0.53, 0.08, 0.14, 0.11, 0.08, 0.08, 0.08, 0.06, 0.06, 0.01, -0.07, -0.15, -0.22, -0.27, -0.33, -0.35, -0.38, -0.38, -0.35, -0.35, -0.33, -0.13, 0.24, 0.65, 0.96],
    [-0.3, -0.22, -0.1, -0.02, 0.03, 0.06, 0.08, 0.08, 0.06, 0.03, -0.02, -0.07, -0.12, -0.17, -0.22, -0.25, -0.27, -0.3, -0.35, -0.36, -0.37, -0.35, -0.28, 0.01, 0.39, 0.68],
];
const SHP_P10 = [
    [-2.0, -1.92, -1.84, -1.76, -1.56, -1.35, -1.15, -0.99, -0.84, -0.69, -0.53, -0.5, -0.48, -0.45, -0.5, -0.58, -0.69, -0.84, -1.1, -1.46, -1.81, -2.2, -2.6, -3, -3, -3],
    [-3, -3, -3, -2.3, -1.87, -1.61, -1.46, -1.35, -1.25, -1.15, -0.99, -0.89, -0.89, -0.94, -1.04, -1.15, -1.25, -1.46, -1.66, -1.92, -2.2, -2.6, -3, -3, -3, -3],
    [-3, -3, -3, -2.3, -1.76, -1.46, -1.25, -1.1, -1.02, -0.94, -0.74, -0.63, -0.58, -0.58, -0.63, -0.69, -0.79, -0.94, -1.15, -1.46, -1.71, -1.97, -2.3, -3, -3, -3],
    [-3, -3, -3, -2.3, -1.87, -1.61, -1.46, -1.35, -1.25, -1.15, -0.99, -0.89, -0.89, -0.94, -1.04, -1.15, -1.25, -1.4, -1.61, -1.87, -2.0, -2.4, -3, -3, -3, -3],
    [-3, -3, -3, -2.3, -1.84, -1.61, -1.46, -1.32, -1.25, -1.12, -0.99, -0.91, -0.91, -0.94, -1.02, -1.07, -1.17, -1.3, -1.51, -1.76, -2.05, -2.4, -3, -3, -3, -3],
];
const SHP_P90 = [
    [0.24, 0.29, 0.28, 0.26, 0.24, 0.21, 0.19, 0.19, 0.19, 0.19, 0.24, 0.31, 0.39, 0.3, 0.3, 0.37, 0.45, 0.6, 0.86, 1.16, 1.42, 1.73, 2.1, 2.5, 3, 3],
    [1.75, 2.2, 2.5, 2.5, 2.0, 1.78, 1.57, 1.47, 1.42, 1.32, 1.27, 1.06, 0.8, 0.55, 0.42, 0.37, 0.39, 0.44, 0.5, 0.6, 0.75, 1.11, 1.52, 2.05, 2.5, 3],
    [1.7, 1.9, 2.2, 2.5, 2.1, 1.73, 1.52, 1.42, 1.37, 1.27, 1.21, 1.06, 0.86, 0.75, 0.7, 0.7, 0.75, 0.82, 0.96, 1.16, 1.47, 1.88, 2.4, 2.6, 2.05, 1.47],
    [1.75, 2.2, 2.5, 2.5, 2.05, 1.83, 1.62, 1.5, 1.42, 1.37, 1.27, 1.01, 0.8, 0.55, 0.42, 0.39, 0.42, 0.55, 0.8, 1.06, 1.37, 1.73, 2.2, 2.6, 3, 3],
    [1.5, 2.2, 2.5, 2.5, 2.0, 1.78, 1.57, 1.42, 1.4, 1.32, 1.27, 1.01, 0.8, 0.55, 0.44, 0.39, 0.42, 0.55, 0.8, 1.01, 1.21, 1.52, 1.95, 2.4, 3, 3],
];

const PANELS = [
    { title: "Apr 2014; Global", row: 0, col: 0, cntMax: 80000, cntTicks: TICKS_80K, cntGpac: GLOBAL_CNT_GPAC, cnt: GLOBAL_CNT, median: GLOBAL_MEDIAN, mean: GLOBAL_MEAN, p10: GLOBAL_P10, p90: GLOBAL_P90 },
    { title: "Apr 2014; 20.0S-20.0N", row: 0, col: 1, cntMax: 10000, cntTicks: TICKS_10K, cntGpac: TROP_CNT_GPAC, cnt: TROP_CNT, median: TROP_MEDIAN, mean: TROP_MEAN, p10: TROP_P10, p90: TROP_P90 },
    { title: "Apr 2014; 20.0N-60.0N", row: 1, col: 0, cntMax: 30000, cntTicks: TICKS_30K, cntGpac: NHM_CNT_GPAC, cnt: NHM_CNT, median: NHM_MEDIAN, mean: NHM_MEAN, p10: NHM_P10, p90: NHM_P90 },
    { title: "Apr 2014; 60.0S-20.0S", row: 1, col: 1, cntMax: 30000, cntTicks: TICKS_30K, cntGpac: SHM_CNT_GPAC, cnt: SHM_CNT, median: SHM_MEDIAN, mean: SHM_MEAN, p10: SHM_P10, p90: SHM_P90 },
    { title: "Apr 2014; 60.0N-90.0N", row: 2, col: 0, cntMax: 10000, cntTicks: TICKS_10K, cntGpac: NHP_CNT_GPAC, cnt: NHP_CNT, median: NHP_MEDIAN, mean: NHP_MEAN, p10: NHP_P10, p90: NHP_P90 },
    { title: "Apr 2014; 90.0S-60.0S", row: 2, col: 1, cntMax: 10000, cntTicks: TICKS_10K, cntGpac: SHP_CNT_GPAC, cnt: SHP_CNT, median: SHP_MEDIAN, mean: SHP_MEAN, p10: SHP_P10, p90: SHP_P90 },
];

// layout
const COL_X = [
    { c0: 49, d0: 199, d1: 458 },
    { c0: 584, d0: 735, d1: 994 },
];
const ROW_Y = [29, 483, 939];
const PLOT_H = 371;
const FONT = "'DejaVu Sans', sans-serif";

export default function App() {
    const ref = useRef<SVGSVGElement>(null);

    useEffect(() => {
        const svg = d3.select(ref.current);
        svg.selectAll("*").remove();
        const defs = svg.append("defs");

        PANELS.forEach((p, pi) => {
            const { c0, d0, d1 } = COL_X[p.col];
            const top = ROW_Y[p.row];
            const bot = top + PLOT_H;

            const y = d3.scaleLinear().domain([0, 40]).range([bot, top]);
            const xc = d3.scaleLinear().domain([0, p.cntMax]).range([c0, d0]);
            const xd = d3.scaleLinear().domain([-2, 2]).range([d0, d1]);

            const g = svg.append("g");

            defs.append("clipPath").attr("id", `cc${pi}`)
                .append("rect").attr("x", c0).attr("y", top).attr("width", d0 - c0).attr("height", PLOT_H);
            defs.append("clipPath").attr("id", `dc${pi}`)
                .append("rect").attr("x", d0).attr("y", top).attr("width", d1 - d0).attr("height", PLOT_H);

            // grid
            const grid = g.append("g")
                .attr("stroke", "#b0b0b0")
                .attr("stroke-width", 0.8)
                .attr("stroke-dasharray", "1,2");
            p.cntTicks.forEach(t => {
                grid.append("line").attr("x1", xc(t)).attr("x2", xc(t)).attr("y1", top).attr("y2", bot);
            });
            DIFF_TICKS.forEach(t => {
                grid.append("line").attr("x1", xd(t)).attr("x2", xd(t)).attr("y1", top).attr("y2", bot);
            });
            ALT_TICKS.forEach(t => {
                grid.append("line").attr("x1", c0).attr("x2", d1).attr("y1", y(t)).attr("y2", y(t));
            });

            // zero line
            g.append("line")
                .attr("x1", xd(0)).attr("x2", xd(0))
                .attr("y1", top).attr("y2", bot)
                .attr("stroke", "#000").attr("stroke-width", 1);

            // number of pairs
            const cntLine = d3.line<number>()
                .x(v => xc(v))
                .y((_, i) => y(CNT_ALT[i]));
            const cg = g.append("g").attr("clip-path", `url(#cc${pi})`);
            SETS.forEach((_, k) => {
                cg.append("path")
                    .attr("d", cntLine(k === 0 ? p.cntGpac : p.cnt))
                    .attr("fill", "none")
                    .attr("stroke", COLORS[k])
                    .attr("stroke-width", 2.5);
            });

            // temperature differences
            const dLine = d3.line<number>()
                .x(v => xd(v))
                .y((_, i) => y(ALT[i]))
                .curve(d3.curveMonotoneY);
            const dg = g.append("g").attr("clip-path", `url(#dc${pi})`).attr("fill", "none");
            SETS.forEach((_, k) => {
                dg.append("path").attr("d", dLine(p.median[k]))
                    .attr("stroke", COLORS[k]).attr("stroke-width", 2.5);
                dg.append("path").attr("d", dLine(p.mean[k]))
                    .attr("stroke", COLORS[k]).attr("stroke-width", 2.5).attr("stroke-dasharray", "8,4");
                dg.append("path").attr("d", dLine(p.p10[k]))
                    .attr("stroke", COLORS[k]).attr("stroke-width", 1);
                dg.append("path").attr("d", dLine(p.p90[k]))
                    .attr("stroke", COLORS[k]).attr("stroke-width", 1);
            });

            // spines
            g.append("rect").attr("x", c0).attr("y", top).attr("width", d0 - c0).attr("height", PLOT_H)
                .attr("fill", "none").attr("stroke", "#000").attr("stroke-width", 1);
            g.append("rect").attr("x", d0).attr("y", top).attr("width", d1 - d0).attr("height", PLOT_H)
                .attr("fill", "none").attr("stroke", "#000").attr("stroke-width", 1);

            // ticks + labels
            const tk = g.append("g").attr("stroke", "#000").attr("stroke-width", 1);
            const lab = g.append("g").style("font-family", FONT).style("font-size", "12px").attr("fill", "#222");
            ALT_TICKS.forEach(t => {
                tk.append("line").attr("x1", c0 - 3.5).attr("x2", c0).attr("y1", y(t)).attr("y2", y(t));
                tk.append("line").attr("x1", d0 - 3.5).attr("x2", d0).attr("y1", y(t)).attr("y2", y(t));
                tk.append("line").attr("x1", d1).attr("x2", d1 + 3.5).attr("y1", y(t)).attr("y2", y(t));
                lab.append("text").attr("x", c0 - 6).attr("y", y(t)).attr("dy", "0.35em")
                    .attr("text-anchor", "end").text(t);
                lab.append("text").attr("x", d1 + 5).attr("y", y(t) - (t === 0 ? 3 : 0)).attr("dy", "0.35em")
                    .attr("text-anchor", "start").text(t);
            });
            p.cntTicks.forEach(t => {
                tk.append("line").attr("x1", xc(t)).attr("x2", xc(t)).attr("y1", bot).attr("y2", bot + 3.5);
                lab.append("text")
                    .attr("transform", `translate(${xc(t) + 3},${bot + 7}) rotate(-45)`)
                    .attr("text-anchor", "end")
                    .style("font-size", "11.5px")
                    .text(t);
            });
            DIFF_TICKS.forEach(t => {
                tk.append("line").attr("x1", xd(t)).attr("x2", xd(t)).attr("y1", bot).attr("y2", bot + 3.5);
                lab.append("text").attr("x", xd(t)).attr("y", bot + 15)
                    .attr("text-anchor", "middle").text(d3.format(".1f")(t));
            });

            // title & axis labels
            g.append("text")
                .attr("x", (c0 + d1) / 2).attr("y", top - 8)
                .attr("text-anchor", "middle")
                .style("font-family", FONT).style("font-size", "14.5px").attr("fill", "#222")
                .text(p.title);
            g.append("text")
                .attr("transform", `translate(${c0 - 27},${(top + bot) / 2}) rotate(-90)`)
                .attr("text-anchor", "middle")
                .style("font-family", FONT).style("font-size", "12.5px").attr("fill", "#222")
                .text("altitude [km]");
            g.append("text")
                .attr("x", (d0 + d1) / 2).attr("y", bot + 32)
                .attr("text-anchor", "middle")
                .style("font-family", FONT).style("font-size", "12.5px").attr("fill", "#222")
                .text("dry temperature diff. [K]");

            // legend: number of pairs
            const lc = g.append("g").style("font-family", FONT).style("font-size", "10.5px");
            lc.append("rect")
                .attr("x", c0 + 5).attr("y", bot - 77).attr("width", 140).attr("height", 72).attr("rx", 3)
                .attr("fill", "#fff").attr("fill-opacity", 0.6)
                .attr("stroke", "#ccc").attr("stroke-width", 1);
            const cntLabels = SETS.map(s => `no. pairs ${s}`).concat(["minimum number"]);
            cntLabels.forEach((txt, i) => {
                const ly = bot - 68.3 + i * 10.66;
                const ln = lc.append("line").attr("x1", c0 + 9).attr("x2", c0 + 31).attr("y1", ly).attr("y2", ly);
                if (i < 5) ln.attr("stroke", COLORS[i]).attr("stroke-width", 2.5);
                else ln.attr("stroke", "#888").attr("stroke-width", 0.8).attr("stroke-dasharray", "1,1.5");
                lc.append("text").attr("x", c0 + 31).attr("y", ly).attr("dy", "0.35em").attr("fill", "#222").text(txt);
            });

            // legend: differences
            const ld = g.append("g").style("font-family", FONT).style("font-size", "10.5px");
            SETS.forEach((s, k) => {
                const entries = [
                    { txt: `median ${s}`, w: 2.5, dash: null },
                    { txt: `mean ${s}`, w: 2.5, dash: "8,4" },
                    { txt: `10%, 90% Perc. ${s}`, w: 1, dash: null },
                ];
                entries.forEach((e, j) => {
                    const ly = top + 207 + (k * 3 + j) * 10.64;
                    const ln = ld.append("line").attr("x1", d0 + 10).attr("x2", d0 + 31).attr("y1", ly).attr("y2", ly)
                        .attr("stroke", COLORS[k]).attr("stroke-width", e.w);
                    if (e.dash) ln.attr("stroke-dasharray", e.dash);
                    ld.append("text").attr("x", d0 + 31).attr("y", ly).attr("dy", "0.35em").attr("fill", "#222").text(e.txt);
                });
            });
        });
    }, []);

    return (
        <svg
            ref={ref}
            width={1018}
            height={1346}
            style={{ position: "absolute", left: 0, top: 0, background: "#fff" }}
        />
    );
}
